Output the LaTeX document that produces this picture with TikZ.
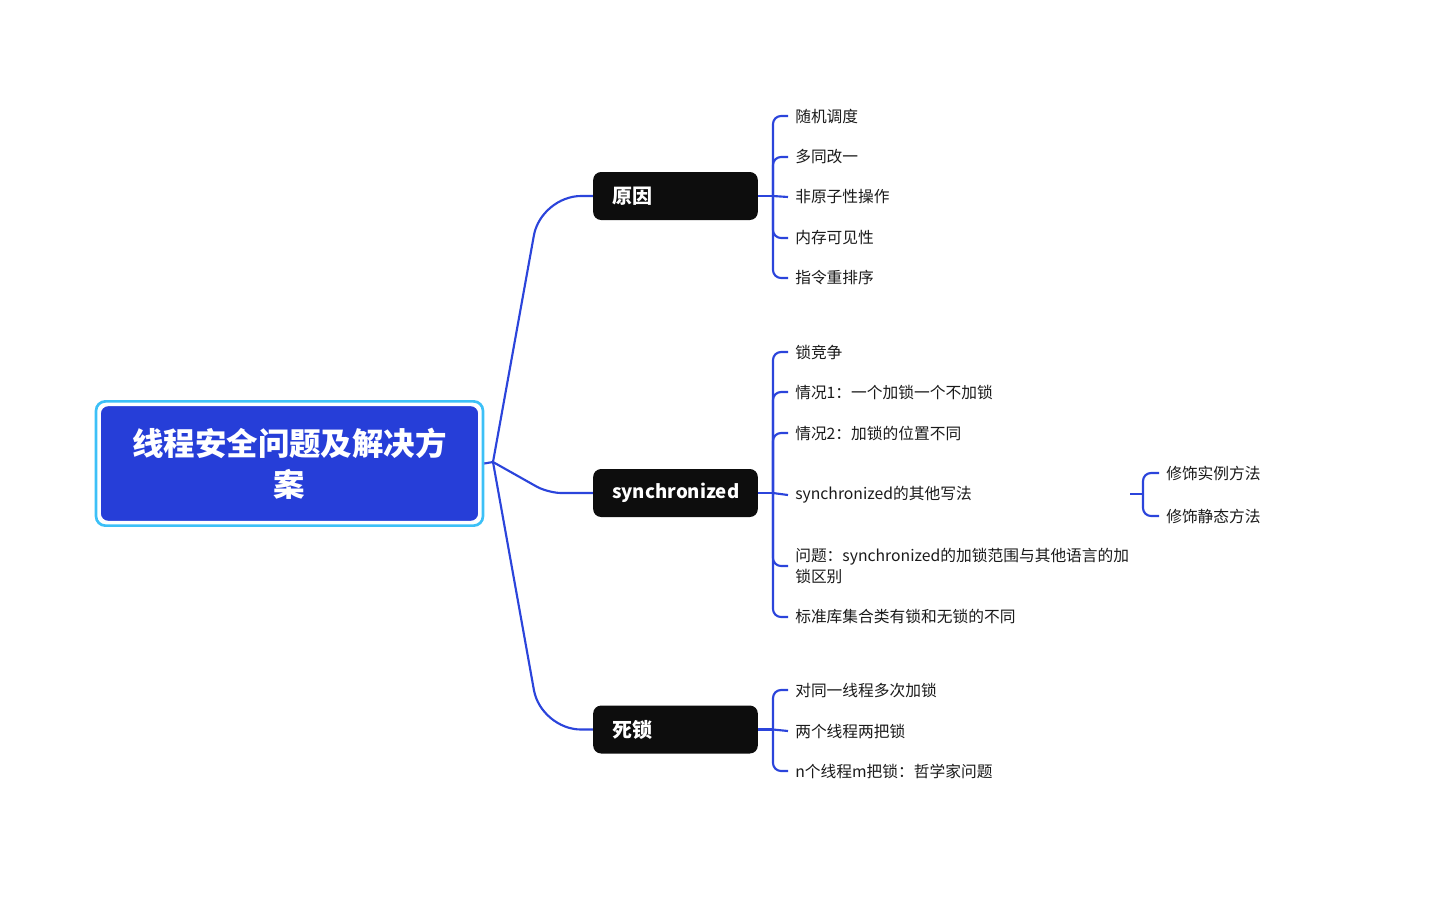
\documentclass[tikz,border=0pt]{standalone}
\usepackage{fontspec}
\setmainfont{Noto Sans CJK SC}
\usetikzlibrary{fit}
\definecolor{rootblue}{HTML}{263ED8}
\definecolor{rootring}{HTML}{3CC0F7}
\definecolor{linkblue}{HTML}{2B44DB}
\definecolor{branchbg}{HTML}{0D0D0D}
\definecolor{leaftext}{HTML}{1A1A1A}
\begin{document}
\begin{tikzpicture}[x=0.75pt,y=-0.75pt,
 rootbox/.style={fill=rootblue, draw=white, line width=1pt, rounded corners=6pt, minimum width=284pt, minimum height=87pt, text=white, font=\fontsize{23.6}{30.75}\selectfont\bfseries, align=center},
 ring/.style={draw=rootring, line width=2pt, rounded corners=7pt, inner sep=2.6pt},
 branchbox/.style={fill=branchbg, rounded corners=6pt, minimum height=36pt, text=white, font=\fontsize{15}{18}\selectfont\bfseries, align=left, text width=95pt, inner xsep=14.25pt},
 leaf/.style={anchor=west, inner xsep=5.25pt, inner ysep=0pt, font=\fontsize{11.8}{15.75}\selectfont, text=leaftext, align=left},
 link/.style={draw=linkblue, line width=1.6pt},
 brace/.style={link, rounded corners=6pt}]
\useasboundingbox (0,0) rectangle (1450,901);

% root
\node[rootbox] (root) at (289.5,463.5) {线程安全问题及解决方\\案};
\node[ring, fit=(root)] (rootring) {};

% branches
\node[branchbox] (b1) at (675.5,196) {原因};
\node[branchbox] (b2) at (675.5,493) {\fontsize{14}{18}\selectfont synchronized};
\node[branchbox] (b3) at (675.5,729.5) {死锁};

% root connectors
\coordinate (rj) at (493,462);
\coordinate (e1) at (541,196);
\coordinate (e2) at (548,493);
\coordinate (e3) at (541,729.5);
\draw[link] (rootring.east) -- (rj);
\draw[link, rounded corners=30pt] (rj) -- (e1) -- (b1.west);
\draw[link, rounded corners=10pt] (rj) -- (e2) -- (b2.west);
\draw[link, rounded corners=30pt] (rj) -- (e3) -- (b3.west);

% leaves of 原因
\coordinate (j1) at (773,196);
\draw[link] (b1.east) -- (j1);
\node[leaf] (l11) at (788,116) {随机调度};
\node[leaf] (l12) at (788,157) {多同改一};
\node[leaf] (l13) at (788,197) {非原子性操作};
\node[leaf] (l14) at (788,238) {内存可见性};
\node[leaf] (l15) at (788,278) {指令重排序};
\draw[brace] (j1) |- (l11.west);
\draw[brace] (j1) |- (l12.west);
\draw[link] (j1) -- (l13.west);
\draw[brace] (j1) |- (l14.west);
\draw[brace] (j1) |- (l15.west);

% leaves of synchronized
\coordinate (j2) at (773,493);
\draw[link] (b2.east) -- (j2);
\node[leaf] (l21) at (788,352) {锁竞争};
\node[leaf] (l22) at (788,392) {情况1：一个加锁一个不加锁};
\node[leaf] (l23) at (788,433) {情况2：加锁的位置不同};
\node[leaf] (l24) at (788,495) {synchronized的其他写法};
\node[leaf] (l25) at (788,566) {问题：synchronized的加锁范围与其他语言的加\\锁区别};
\node[leaf] (l26) at (788,617) {标准库集合类有锁和无锁的不同};
\draw[brace] (j2) |- (l21.west);
\draw[brace] (j2) |- (l22.west);
\draw[brace] (j2) |- (l23.west);
\draw[link] (j2) -- (l24.west);
\draw[brace] (j2) |- (l25.west);
\draw[brace] (j2) |- (l26.west);

% sub-leaves
\coordinate (s4r) at (1130,494);
\coordinate (j4) at (1143,494);
\draw[link] (s4r) -- (j4);
\node[leaf] (l41) at (1159,473) {修饰实例方法};
\node[leaf] (l42) at (1159,516) {修饰静态方法};
\draw[brace] (j4) |- (l41.west);
\draw[brace] (j4) |- (l42.west);

% leaves of 死锁
\coordinate (j3) at (773,729.5);
\draw[link] (b3.east) -- (j3);
\node[leaf] (l31) at (788,690) {对同一线程多次加锁};
\node[leaf] (l32) at (788,731) {两个线程两把锁};
\node[leaf] (l33) at (788,771) {n个线程m把锁：哲学家问题};
\draw[brace] (j3) |- (l31.west);
\draw[link] (j3) -- (l32.west);
\draw[brace] (j3) |- (l33.west);
\end{tikzpicture}
\end{document}
